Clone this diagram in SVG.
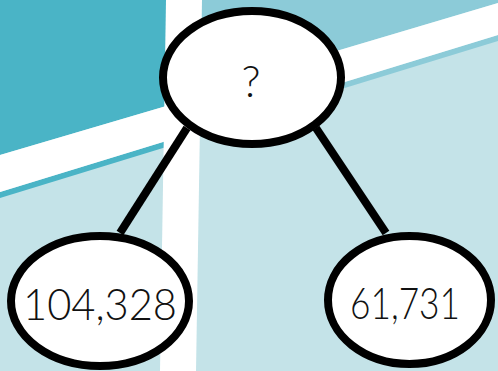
<svg xmlns="http://www.w3.org/2000/svg" width="498" height="371" viewBox="0 0 498 371">
  <style>
    .node { fill: #ffffff; stroke: #000000; stroke-width: 8; }
    .label { font-family: "Lato", "Open Sans", "Liberation Sans", sans-serif; font-weight: 300; font-size: 44px; fill: #111111; text-anchor: middle; }
    .edge { stroke: #000000; stroke-width: 8; stroke-linecap: butt; fill: none; }
  </style>
  <g id="background">
    <rect x="0" y="0" width="498" height="371" fill="#c4e3e8"/>
    <polygon points="0,0 185,0 185,100.4 0,155" fill="#4ab4c6"/>
    <polygon points="185,0 498,0 498,3 185,96" fill="#8ccbd8"/>
    <polygon points="0,192 185,135.2 185,141.2 0,198" fill="#4ab4c6"/>
    <polygon points="0,155 185,100.4 185,135.2 0,192" fill="#ffffff"/>
    <polygon points="185,131.1 498,35 498,41 185,137.1" fill="#8ccbd8"/>
    <polygon points="185,96 498,3 498,35 185,131.1" fill="#ffffff"/>
    <polygon points="166,0 202,0 196,371 160,371" fill="#ffffff"/>
  </g>
  <g id="connectors">
    <line class="edge" x1="187" y1="128" x2="120" y2="233"/>
    <line class="edge" x1="316" y1="128" x2="386" y2="233"/>
  </g>
  <g id="node-top">
    <ellipse class="node" cx="252" cy="77.5" rx="89" ry="66.5"/>
    <text class="label" x="251" y="97" font-size="46">?</text>
  </g>
  <g id="node-left">
    <ellipse class="node" cx="100" cy="301" rx="89" ry="65"/>
    <text class="label" x="100" y="320" textLength="154" lengthAdjust="spacingAndGlyphs">104,328</text>
  </g>
  <g id="node-right">
    <ellipse class="node" cx="409.5" cy="300" rx="81.5" ry="64"/>
    <text class="label" x="405" y="319" textLength="110" lengthAdjust="spacingAndGlyphs">61,731</text>
  </g>
</svg>
